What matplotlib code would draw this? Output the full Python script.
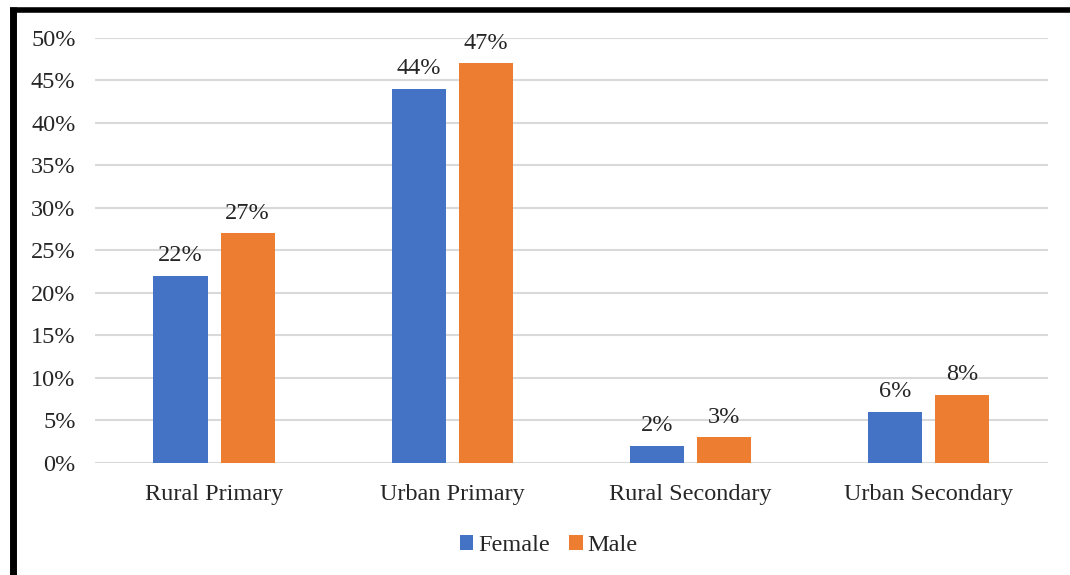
import numpy as np
import matplotlib.pyplot as plt
from matplotlib.lines import Line2D

# Share of learners by school type and sex
categories = ["Rural Primary", "Urban Primary", "Rural Secondary", "Urban Secondary"]
female = [22, 44, 2, 6]
male = [27, 47, 3, 8]
yticks = [0, 5, 10, 15, 20, 25, 30, 35, 40, 45, 50]

plt.rcParams['font.family'] = ['Liberation Serif', 'DejaVu Serif']
text_color = "#262626"
fs = 17.5

fig = plt.figure(figsize=(10.7, 5.75), dpi=100)
ax = fig.add_axes([0.0888, 0.1948, 0.8902, 0.7392])

x = np.arange(len(categories))
w = 0.227
gap = 0.055
b1 = ax.bar(x - (w + gap) / 2, female, w, color="#4472C4", label="Female", zorder=3)
b2 = ax.bar(x + (w + gap) / 2, male, w, color="#ED7D31", label="Male", zorder=3)

for bars, vals in ((b1, female), (b2, male)):
    for bar, v in zip(bars, vals):
        ax.annotate(f"{v}%", (bar.get_x() + bar.get_width() / 2, v),
                    xytext=(0, 7), textcoords="offset points",
                    ha="center", va="bottom", fontsize=fs, color=text_color)

ax.set_xlim(-0.5, len(categories) - 0.5)
ax.set_ylim(0, 50)
ax.set_yticks(yticks)
ax.set_yticklabels([f"{t}%" for t in yticks])
ax.set_xticks(x)
ax.set_xticklabels(categories)
ax.tick_params(axis="both", length=0, labelsize=fs, colors=text_color)
ax.tick_params(axis="y", pad=14)
ax.tick_params(axis="x", pad=15)
ax.grid(axis="y", color="#d9d9d9", linewidth=1.5, zorder=0)
ax.set_axisbelow(True)
for s in ax.spines.values():
    s.set_visible(False)

fig.legend(handles=[b1, b2], labels=["Female", "Male"], loc="center",
           bbox_to_anchor=(0.513, 0.051), ncol=2, frameon=False,
           fontsize=fs, handlelength=0.55, handleheight=0.55,
           handletextpad=0.2, columnspacing=0.8, labelcolor=text_color)

# dark frame along the top and left edges
fig.add_artist(Line2D([12.5 / 1070, 12.5 / 1070], [0, 1 - 7 / 575], color="black",
                      linewidth=5, transform=fig.transFigure, solid_capstyle="butt"))
fig.add_artist(Line2D([10 / 1070, 1], [1 - 9.5 / 575, 1 - 9.5 / 575], color="black",
                      linewidth=4, transform=fig.transFigure, solid_capstyle="butt"))

fig.savefig("out.png", dpi=100)
